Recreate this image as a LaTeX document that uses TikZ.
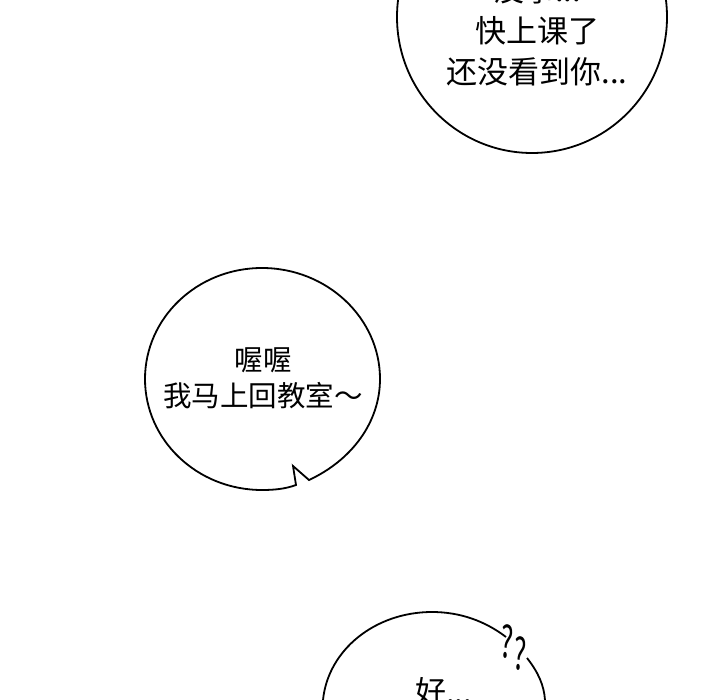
\documentclass[tikz,border=0pt]{standalone}
\usepackage{fontspec}
\setmainfont{Noto Sans CJK SC}
\tikzset{
  balloon/.style={draw=black,line width=1.8pt,fill=white},
  speech/.style={align=center,inner sep=0pt,text=black},
  speechbig/.style={speech,font=\fontsize{31pt}{41pt}\selectfont},
  speechsmall/.style={speech,font=\fontsize{28.5pt}{36pt}\selectfont},
  puzzled/.style={inner sep=0pt,font=\fontsize{44pt}{44pt}\selectfont,xscale=0.6},
}
\begin{document}
\begin{tikzpicture}[x=1pt,y=-1pt]
 \useasboundingbox (0,0) rectangle (720,700);
 \begin{scope}
 \clip (0,0) rectangle (720,700);
 % top balloon
 \draw[balloon] (532,17) ellipse [x radius=135,y radius=136];
 \node[speechbig] (classtext) at (537,31) {没事...\\快上课了\\还没看到你...};
 % middle balloon with notch
 \draw[balloon,line join=miter] (296,485) .. controls (285,489) and (274,490) .. (262,490)
   .. controls (197,490) and (145,440) .. (145,379)
   .. controls (145,318) and (197,268) .. (262,268)
   .. controls (327,268) and (380,318) .. (380,379)
   .. controls (380,422) and (352,460) .. (309,480)
   -- (293,466) -- cycle;
 \node[speechsmall] (backtext) at (263,378) {喔喔\\我马上回教室～};
 % bottom balloon, gap at the question marks
 \draw[balloon,fill=none] (323,700) .. controls (328,650) and (375,612) .. (432,612)
   .. controls (460,612) and (485,621) .. (506,637);
 \draw[balloon,fill=none] (527,658) .. controls (538,672) and (544,685) .. (545,700);
 \node[speechbig,anchor=west] (oktext) at (415,692) {好...};
 \node[puzzled,rotate=-8] (markone) at (507,642) {?};
 \node[puzzled,rotate=-8] (marktwo) at (520,654) {?};
 \end{scope}
\end{tikzpicture}
\end{document}
